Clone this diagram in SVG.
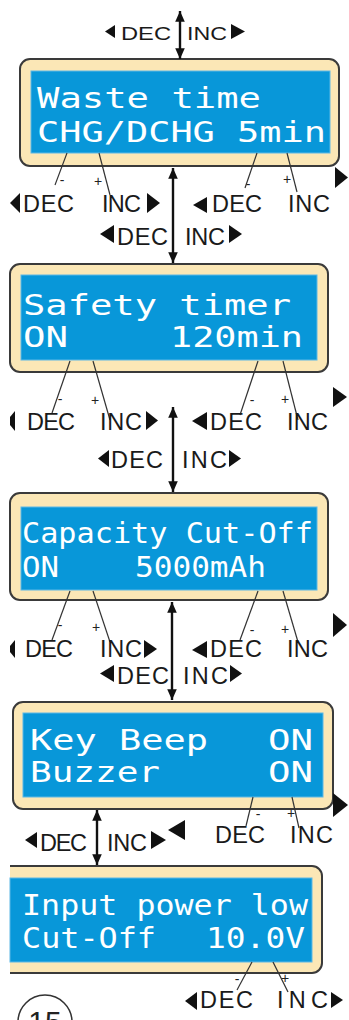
<svg xmlns="http://www.w3.org/2000/svg" width="349" height="1020" viewBox="0 0 349 1020">
<style>
.frame{fill:#fbe7b6;stroke:#3a3a3a;stroke-width:2}
.lcd{fill:#0897d9;stroke:#5cb8e6;stroke-width:1}
.disp{font-family:"DejaVu Sans Mono",monospace;fill:#ffffff;font-size:29px}
.lb{font-family:"Liberation Sans",Arial,sans-serif;fill:#1a1a1a;font-size:23.5px}
.lbs{font-family:"Liberation Sans",Arial,sans-serif;fill:#1a1a1a;font-size:19px}
.sg{font-family:"Liberation Sans",Arial,sans-serif;fill:#222;font-size:14px;text-anchor:middle}
.tri{fill:#111}
.ld{stroke:#333;stroke-width:1.2;fill:none}
.sh{stroke:#111;stroke-width:2.4;fill:none}
</style>
<defs>
<marker id="ah" viewBox="0 0 10 10" refX="10" refY="5" markerWidth="4.5" markerHeight="4" orient="auto-start-reverse" markerUnits="strokeWidth" preserveAspectRatio="none">
<path d="M0,0 L10,5 L0,10 Z" fill="#111"/>
</marker>
</defs>
<rect width="349" height="1020" fill="#ffffff"/>

<g id="panel1">
<rect class="frame" x="20" y="59" width="319" height="107" rx="10"/>
<rect class="lcd" x="31" y="71" width="299" height="82"/>
<text class="disp" x="37" y="108" font-size="31" textLength="224" lengthAdjust="spacingAndGlyphs">Waste time</text>
<text class="disp" x="37" y="142" font-size="31" textLength="289" lengthAdjust="spacingAndGlyphs">CHG/DCHG 5min</text>
</g>

<g id="panel2">
<rect class="frame" x="10" y="264" width="318" height="108" rx="10"/>
<rect class="lcd" x="21" y="275" width="296" height="85"/>
<text class="disp" x="23" y="315" textLength="268" lengthAdjust="spacingAndGlyphs">Safety timer</text>
<text class="disp" x="23" y="347" textLength="45" lengthAdjust="spacingAndGlyphs">ON</text>
<text class="disp" x="170" y="347" textLength="133" lengthAdjust="spacingAndGlyphs">120min</text>
</g>

<g id="panel3">
<rect class="frame" x="10" y="493" width="318" height="107" rx="10"/>
<rect class="lcd" x="21" y="507" width="296" height="83"/>
<text class="disp" x="22" y="543" textLength="291" lengthAdjust="spacingAndGlyphs">Capacity Cut-Off</text>
<text class="disp" x="22" y="577" textLength="37" lengthAdjust="spacingAndGlyphs">ON</text>
<text class="disp" x="135" y="577" textLength="131" lengthAdjust="spacingAndGlyphs">5000mAh</text>
</g>

<g id="panel4">
<rect class="frame" x="13" y="702" width="320" height="107" rx="10"/>
<rect class="lcd" x="23" y="713" width="300" height="84"/>
<text class="disp" x="30" y="750" textLength="178" lengthAdjust="spacingAndGlyphs">Key Beep</text>
<text class="disp" x="268" y="750" textLength="45" lengthAdjust="spacingAndGlyphs">ON</text>
<text class="disp" x="30" y="782" textLength="130" lengthAdjust="spacingAndGlyphs">Buzzer</text>
<text class="disp" x="268" y="782" textLength="45" lengthAdjust="spacingAndGlyphs">ON</text>
</g>

<g id="panel5">
<path d="M10,866 H312 A10,10 0 0 1 322,876 V963 A10,10 0 0 1 312,973 H10 Z" fill="#fbe7b6"/>
<path d="M10,866 H312 A10,10 0 0 1 322,876 V963 A10,10 0 0 1 312,973 H10" fill="none" stroke="#3a3a3a" stroke-width="2"/>
<rect class="lcd" x="10" y="878" width="302" height="84"/>
<text class="disp" x="22" y="915" textLength="286" lengthAdjust="spacingAndGlyphs">Input power low</text>
<text class="disp" x="22" y="948" textLength="134" lengthAdjust="spacingAndGlyphs">Cut-Off</text>
<text class="disp" x="206" y="948" textLength="99" lengthAdjust="spacingAndGlyphs">10.0V</text>
</g>

<g id="badge">
<circle cx="45" cy="1022" r="27" fill="none" stroke="#333" stroke-width="1.5"/>
<text x="45" y="1032" font-family="Liberation Sans,Arial,sans-serif" font-size="30" fill="#222" text-anchor="middle">15</text>
</g>

<g id="connectors">
<line class="sh" x1="180" y1="11" x2="180" y2="59" marker-start="url(#ah)" marker-end="url(#ah)"/>
<line class="sh" x1="173" y1="168" x2="173" y2="263" marker-start="url(#ah)" marker-end="url(#ah)"/>
<line class="sh" x1="173" y1="407" x2="173" y2="492" marker-start="url(#ah)" marker-end="url(#ah)"/>
<line class="sh" x1="172" y1="602" x2="172" y2="700" marker-start="url(#ah)" marker-end="url(#ah)"/>
<line class="sh" x1="97" y1="810" x2="97" y2="865" marker-start="url(#ah)" marker-end="url(#ah)"/>

<line class="ld" x1="67" y1="153" x2="55" y2="185"/>
<line class="ld" x1="99" y1="153" x2="110" y2="195"/>
<line class="ld" x1="257" y1="153" x2="245" y2="188"/>
<line class="ld" x1="287" y1="153" x2="297" y2="192"/>

<line class="ld" x1="70" y1="361" x2="52" y2="413"/>
<line class="ld" x1="93" y1="361" x2="110" y2="420"/>
<line class="ld" x1="258" y1="361" x2="240" y2="415"/>
<line class="ld" x1="283" y1="361" x2="298" y2="420"/>

<line class="ld" x1="70" y1="591" x2="52" y2="640"/>
<line class="ld" x1="93" y1="591" x2="110" y2="642"/>
<line class="ld" x1="258" y1="591" x2="240" y2="640"/>
<line class="ld" x1="283" y1="591" x2="298" y2="642"/>

<line class="ld" x1="253" y1="797" x2="246" y2="826"/>
<line class="ld" x1="292" y1="797" x2="299" y2="828"/>

<line class="ld" x1="252" y1="962" x2="237" y2="990"/>
<line class="ld" x1="273" y1="962" x2="288" y2="992"/>
</g>

<g id="labels">
<polygon class="tri" points="105,31.5 115,25 115,38"/>
<text class="lbs" x="121" y="40" textLength="50" lengthAdjust="spacingAndGlyphs">DEC</text>
<text class="lbs" x="187" y="40" textLength="40" lengthAdjust="spacingAndGlyphs">INC</text>
<polygon class="tri" points="245,31.5 231,24 231,39"/>

<polygon class="tri" points="10,203 20,193 20,213"/>
<text class="lb" x="23" y="212" textLength="51" lengthAdjust="spacing">DEC</text>
<text class="lb" x="102" y="212" textLength="39" lengthAdjust="spacing">INC</text>
<polygon class="tri" points="160,203 147,193 147,213"/>
<polygon class="tri" points="193,205 207,197 207,213"/>
<text class="lb" x="212" y="212" textLength="50" lengthAdjust="spacing">DEC</text>
<text class="lb" x="288" y="212" textLength="42" lengthAdjust="spacing">INC</text>
<polygon class="tri" points="348,177.5 335,167 335,188"/>
<polygon class="tri" points="100,234 114,225 114,243"/>
<text class="lb" x="117" y="245" textLength="51" lengthAdjust="spacing">DEC</text>
<text class="lb" x="185" y="245" textLength="40" lengthAdjust="spacing">INC</text>
<polygon class="tri" points="242,234 229,225 229,243"/>
<text class="sg" x="62" y="185">-</text>
<text class="sg" x="98" y="186">+</text>
<text class="sg" x="248" y="189">-</text>
<text class="sg" x="287" y="184">+</text>

<polygon class="tri" points="10,417 15,411 15,431 10,425"/>
<text class="lb" x="27" y="430" textLength="48" lengthAdjust="spacing">DEC</text>
<text class="lb" x="100" y="430" textLength="42" lengthAdjust="spacing">INC</text>
<polygon class="tri" points="158,420.5 146,411 146,430"/>
<polygon class="tri" points="192,421 207,412 207,430"/>
<text class="lb" x="210" y="430" textLength="52" lengthAdjust="spacing">DEC</text>
<text class="lb" x="287" y="430" textLength="41" lengthAdjust="spacing">INC</text>
<polygon class="tri" points="347,397 333,387 333,407"/>
<polygon class="tri" points="98,458.5 109,450 109,467"/>
<text class="lb" x="111" y="468" textLength="52" lengthAdjust="spacing">DEC</text>
<text class="lb" x="182" y="468" textLength="45" lengthAdjust="spacing">INC</text>
<polygon class="tri" points="241,458.5 229,450 229,467"/>
<text class="sg" x="60" y="404">-</text>
<text class="sg" x="95" y="405">+</text>
<text class="sg" x="252" y="405">-</text>
<text class="sg" x="285" y="404">+</text>

<polygon class="tri" points="10,646 15,640 15,658 10,652"/>
<text class="lb" x="25" y="657" textLength="48" lengthAdjust="spacing">DEC</text>
<text class="lb" x="100" y="657" textLength="42" lengthAdjust="spacing">INC</text>
<polygon class="tri" points="157,649 144,640 144,658"/>
<polygon class="tri" points="192,650 207,641 207,658"/>
<text class="lb" x="210" y="657" textLength="52" lengthAdjust="spacing">DEC</text>
<text class="lb" x="287" y="657" textLength="41" lengthAdjust="spacing">INC</text>
<polygon class="tri" points="347,625 333,613 333,637"/>
<polygon class="tri" points="100,673.5 114,665 114,682"/>
<text class="lb" x="117" y="684" textLength="52" lengthAdjust="spacing">DEC</text>
<text class="lb" x="183" y="684" textLength="45" lengthAdjust="spacing">INC</text>
<polygon class="tri" points="242,673.5 230,665 230,682"/>
<text class="sg" x="60" y="630">-</text>
<text class="sg" x="96" y="632">+</text>
<text class="sg" x="252" y="635">-</text>
<text class="sg" x="285" y="634">+</text>

<polygon class="tri" points="25,840 37,832 37,848"/>
<text class="lb" x="40" y="851" textLength="47" lengthAdjust="spacing">DEC</text>
<text class="lb" x="107" y="851" textLength="40" lengthAdjust="spacing">INC</text>
<polygon class="tri" points="166,840 151,831 151,849"/>
<polygon class="tri" points="168,830 185,820 185,840"/>
<text class="lb" x="215" y="843" textLength="50" lengthAdjust="spacing">DEC</text>
<text class="lb" x="290" y="843" textLength="43" lengthAdjust="spacing">INC</text>
<polygon class="tri" points="348,805 333,793 333,817"/>
<text class="sg" x="258" y="819">-</text>
<text class="sg" x="291" y="818">+</text>

<polygon class="tri" points="185,1001 197,992 197,1010"/>
<text class="lb" x="200" y="1008" textLength="53" lengthAdjust="spacing">DEC</text>
<text class="lb" x="277" y="1008" textLength="51" lengthAdjust="spacing">INC</text>
<polygon class="tri" points="343,1000 331,992 331,1008"/>
<text class="sg" x="237" y="984">-</text>
<text class="sg" x="285" y="983">+</text>
</g>
</svg>
